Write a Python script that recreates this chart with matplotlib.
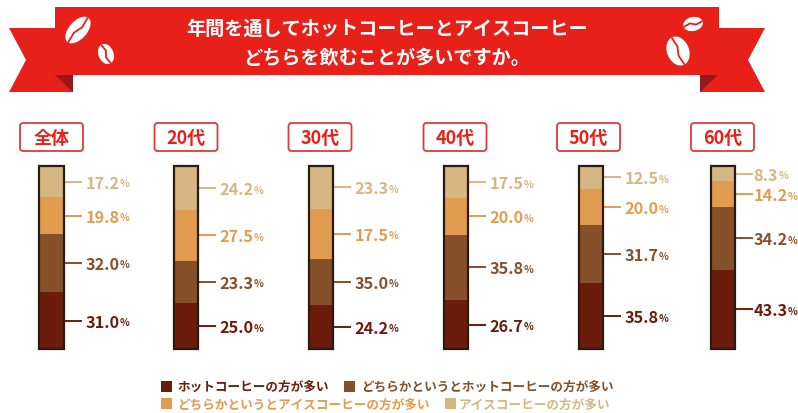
import matplotlib
matplotlib.use('Agg')
import matplotlib.pyplot as plt
import matplotlib.patches as patches
from matplotlib.transforms import Affine2D

plt.rcParams['font.family'] = ['Noto Sans CJK JP', 'DejaVu Sans']

W, H = 798, 414

groups = ['全体', '20代', '30代', '40代', '50代', '60代']
series_names = ['ホットコーヒーの方が多い', 'どちらかというとホットコーヒーの方が多い',
                'どちらかというとアイスコーヒーの方が多い', 'アイスコーヒーの方が多い']
colors = ['#6b1c0a', '#85502a', '#e29c50', '#d6b783']

# printed labels
hot = [31.0, 25.0, 24.2, 26.7, 35.8, 43.3]
rather_hot = [32.0, 23.3, 35.0, 35.8, 31.7, 34.2]
rather_ice = [19.8, 27.5, 17.5, 20.0, 20.0, 14.2]
ice = [17.2, 24.2, 23.3, 17.5, 12.5, 8.3]
all_series = [hot, rather_hot, rather_ice, ice]

# the 30代 bar is not drawn to its printed labels, heights read off the picture
bar_rather_hot = [32.0, 23.3, 25.0, 35.8, 31.7, 34.2]
bar_rather_ice = [19.8, 27.5, 27.5, 20.0, 20.0, 14.2]
bar_series = [hot, bar_rather_hot, bar_rather_ice, ice]

RED = '#e8201a'
DARK_RED = '#96181f'

fig = plt.figure(figsize=(W / 100, H / 100), dpi=100)
bg = fig.add_axes([0, 0, 1, 1])
bg.set_xlim(0, W)
bg.set_ylim(H, 0)
bg.axis('off')

# ribbon
bg.add_patch(patches.Polygon([(9, 29), (73, 29), (73, 93), (9, 93), (26, 61)], fc=RED, lw=0))
bg.add_patch(patches.Polygon([(55, 76), (73, 76), (73, 93)], fc=DARK_RED, lw=0))
bg.add_patch(patches.Polygon([(700, 29), (765, 29), (748, 61), (765, 93), (700, 93)], fc=RED, lw=0))
bg.add_patch(patches.Polygon([(700, 76), (718, 76), (700, 93)], fc=DARK_RED, lw=0))
bg.add_patch(patches.Rectangle((55, 8), 664, 67.5, fc=RED, lw=0))


def bean(x, y, w, h, angle):
    rot = Affine2D().rotate_deg_around(x, y, angle) + bg.transData
    bg.add_patch(patches.Ellipse((x, y), w, h, fc='white', lw=0, transform=rot))
    bg.plot([x - w * 0.5, x - w * 0.15, x + w * 0.15, x + w * 0.5], [y + 1, y - 1.2, y + 1.2, y - 1],
            color=RED, lw=1.3, transform=rot, solid_capstyle='butt')


bean(78, 31, 32, 18, -48)
bean(106, 55, 21, 15, 68)
bean(693, 25, 20, 14, -12)
bean(678, 52, 30, 22, 68)

bg.text(387, 29, '年間を通してホットコーヒーとアイスコーヒー', color='white', fontsize=13.8,
        fontweight='bold', ha='center', va='center')
bg.text(387, 58, 'どちらを飲むことが多いですか。', color='white', fontsize=13.8,
        fontweight='bold', ha='center', va='center')

# bars: x in pixels, y in percent
bar_centers = [51.5, 186, 321, 456, 591, 723]
box_centers = [51.5, 186, 320, 455, 588.5, 722.5]
label_gaps = [21.5, 21.5, 21.5, 21.5, 21.5, 18.5]
BAR_W = 24.5
TOP, BOTTOM = 167, 350
PX = (BOTTOM - TOP) / 100
ax = fig.add_axes([0, 0, 1, 1], facecolor='none')
ax.set_xlim(0, W)
ax.set_ylim(-(H - BOTTOM) / PX, BOTTOM / PX)
ax.axis('off')

renderer = fig.canvas.get_renderer()
for i, cx in enumerate(bar_centers):
    base = 0
    for s, vals in enumerate(bar_series):
        v = vals[i]
        ax.bar(cx, v, bottom=base, width=BAR_W, color=colors[s], lw=0, zorder=2)
        mid = base + v / 2
        x_edge = cx + BAR_W / 2
        ax.plot([x_edge - 1, x_edge + 17], [mid, mid], color=colors[s], lw=1.4, zorder=3)
        y_text = mid - 1 / PX
        num = ax.text(x_edge + label_gaps[i], y_text, f'{all_series[s][i]:.1f}', color=colors[s], fontsize=11.7,
                      fontweight='bold', ha='left', va='center')
        right = num.get_window_extent(renderer).x1
        ax.text(right, y_text - 0.5 / PX, '%', color=colors[s], fontsize=7.3, fontweight='bold',
                ha='left', va='center')
        base += v
    ax.bar(cx, base, width=BAR_W, fill=False, edgecolor='#2b1a12', lw=1.6, zorder=4)

    # group label box
    bx = box_centers[i]
    bg.add_patch(patches.FancyBboxPatch((bx - 31.5, 124), 63, 28, boxstyle='round,pad=0,rounding_size=3',
                                        fc='white', ec='#e0393a', lw=1.3))
    bg.text(bx, 138.5, groups[i], color=RED, fontsize=13, fontweight='bold', ha='center', va='center')

# legend
legend_pos = [(161, 387), (344, 387), (161, 405), (445, 405)]
gaps = [16, 17, 16, 14]
for (lx, ly), name, c, g in zip(legend_pos, series_names, colors, gaps):
    bg.add_patch(patches.Rectangle((lx, ly - 5.5), 11, 11, fc=c, lw=0))
    bg.text(lx + g, ly, name, color=c, fontsize=9.1, fontweight='bold', ha='left', va='center')

fig.savefig('out.png', dpi=100)
